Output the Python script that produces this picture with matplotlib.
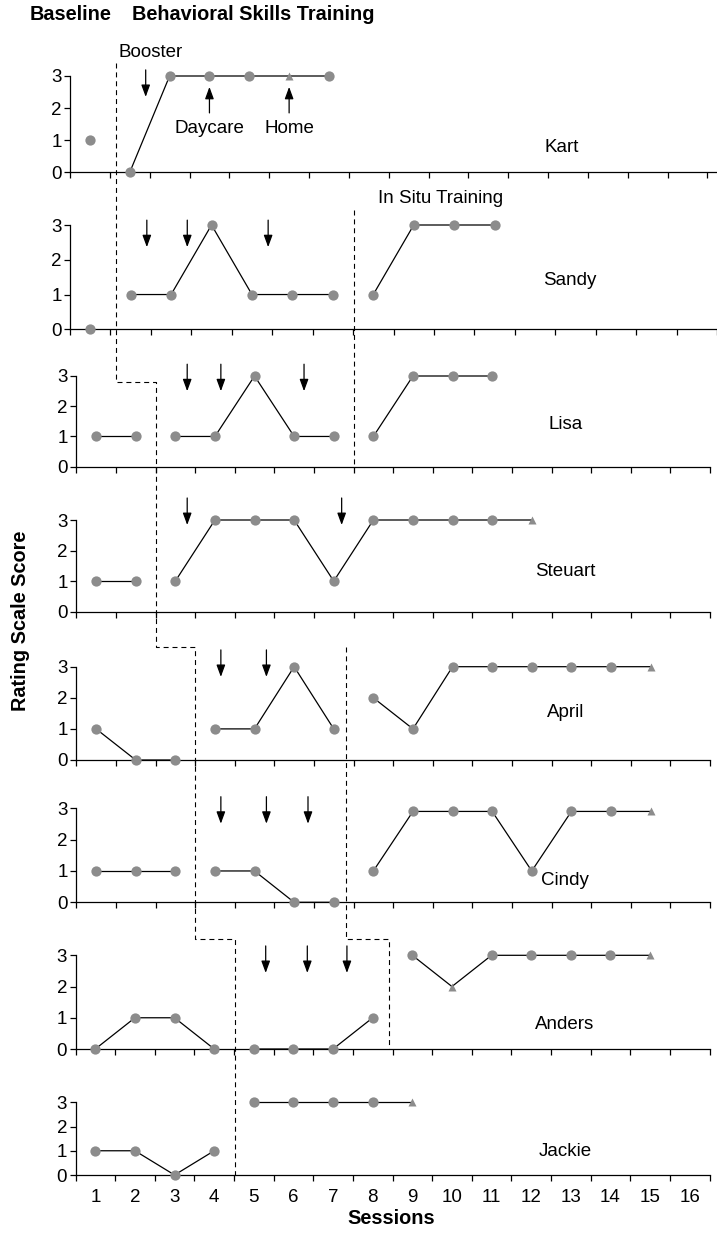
import matplotlib
matplotlib.use("Agg")
import matplotlib.pyplot as plt
from matplotlib.lines import Line2D

plt.rcParams['font.family'] = ['Liberation Sans', 'DejaVu Sans']

# scores per session (session numbers start at 1)
names = ['Kart', 'Sandy', 'Lisa', 'Steuart', 'April', 'Cindy', 'Anders', 'Jackie']

kart_score = [1, 0, 3, 3, 3, 3, 3]
sandy_score = [0, 1, 1, 3, 1, 1, 1, 1, 3, 3, 3]
lisa_score = [1, 1, 1, 1, 3, 1, 1, 1, 3, 3, 3]
steuart_score = [1, 1, 1, 3, 3, 3, 1, 3, 3, 3, 3, 3]
april_score = [1, 0, 0, 1, 1, 3, 1, 2, 1, 3, 3, 3, 3, 3, 3]
cindy_score = [1, 1, 1, 1, 1, 0, 0, 1, 2.9, 2.9, 2.9, 1, 2.9, 2.9, 2.9]
anders_score = [0, 1, 1, 0, 0, 0, 0, 1, 3, 2, 3, 3, 3, 3, 3]
jackie_score = [1, 1, 0, 1, 3, 3, 3, 3, 3]

# phase of each session: 0 baseline, 1 behavioral skills training, 2 in situ
kart_phase = [0, 1, 1, 1, 1, 1, 1]
sandy_phase = [0, 1, 1, 1, 1, 1, 1, 2, 2, 2, 2]
lisa_phase = [0, 0, 1, 1, 1, 1, 1, 2, 2, 2, 2]
steuart_phase = [0, 0, 1, 1, 1, 1, 1, 1, 1, 1, 1, 1]
april_phase = [0, 0, 0, 1, 1, 1, 1, 2, 2, 2, 2, 2, 2, 2, 2]
cindy_phase = [0, 0, 0, 1, 1, 1, 1, 2, 2, 2, 2, 2, 2, 2, 2]
anders_phase = [0, 0, 0, 0, 1, 1, 1, 1, 2, 2, 2, 2, 2, 2, 2]
jackie_phase = [0, 0, 0, 0, 1, 1, 1, 1, 1]

# sessions plotted as triangles (generalization probes)
kart_probe = [6]
sandy_probe = []
lisa_probe = []
steuart_probe = [12]
april_probe = [15]
cindy_probe = [15]
anders_probe = [10, 15]
jackie_probe = [9]

# booster sessions (down arrows)
kart_boost = [2.4]
sandy_boost = [2.4, 3.4, 5.4]
lisa_boost = [3.3, 4.15, 6.25]
steuart_boost = [3.3, 7.2]
april_boost = [4.15, 5.3]
cindy_boost = [4.15, 5.3, 6.35]
anders_boost = [5.3, 6.35, 7.35]
jackie_boost = []

# phase change lines
bst_line = [1.5, 2.5, 3.5, 4.5]
insitu_line = [7.5, 7.3, 8.4]

scores = [kart_score, sandy_score, lisa_score, steuart_score,
          april_score, cindy_score, anders_score, jackie_score]
phases = [kart_phase, sandy_phase, lisa_phase, steuart_phase,
          april_phase, cindy_phase, anders_phase, jackie_phase]
probes = [kart_probe, sandy_probe, lisa_probe, steuart_probe,
          april_probe, cindy_probe, anders_probe, jackie_probe]
boosts = [kart_boost, sandy_boost, lisa_boost, steuart_boost,
          april_boost, cindy_boost, anders_boost, jackie_boost]

W, H = 717, 1239
fig = plt.figure(figsize=(W / 100, H / 100), dpi=100)

# panel boxes in pixels: left, right, top (y=3), bottom (y=0), xmax
boxes = [(70, 717, 76, 172.3, 16.74),
         (70, 717, 225, 329.3, 16.5),
         (76.3, 710, 376, 466.7, 16.5),
         (76.3, 710, 520, 611.7, 16.5),
         (76.3, 710, 666.7, 760, 16.5),
         (76.3, 710, 808.3, 902.3, 16.5),
         (75.5, 709.5, 955.3, 1049, 16.5),
         (75.5, 709.5, 1102.3, 1175, 16.5)]
arrow_top = [3.19, 3.14, 3.39, 3.72, 3.54, 3.37, 3.30, 3.3]
name_y = [0.76, 1.39, 1.41, 1.33, 1.54, 0.71, 0.8, 0.95]

grey = '#8c8c8c'
fs = 13.5
bfs = 14.3
arrow_style = '-|>,head_length=0.6,head_width=0.22'
axes = []
for i, (l, r, t, b, xmax) in enumerate(boxes):
    ax = fig.add_axes([l / W, 1 - b / H, (r - l) / W, (b - t) / H])
    axes.append(ax)
    ax.set_xlim(0.5, xmax)
    ax.set_ylim(0, 3)
    ax.spines['top'].set_visible(False)
    ax.spines['right'].set_visible(False)
    ax.spines['left'].set_linewidth(0.9)
    ax.spines['bottom'].set_linewidth(0.9)
    ax.set_yticks([0, 1, 2, 3])
    ax.set_xticks([k + 0.5 for k in range(17)])
    ax.set_xticklabels([])
    ax.tick_params(axis='both', length=4, width=0.9, labelsize=fs, pad=2)
    ax.patch.set_alpha(0)

    sc = scores[i]
    ses = list(range(1, len(sc) + 1))
    # connect sessions within each phase
    for p in sorted(set(phases[i])):
        xs = [s for s, ph in zip(ses, phases[i]) if ph == p]
        ys = [v for v, ph in zip(sc, phases[i]) if ph == p]
        ax.plot(xs, ys, color='black', lw=0.9, clip_on=False, zorder=2)
    xc = [s for s in ses if s not in probes[i]]
    yc = [sc[s - 1] for s in xc]
    ax.plot(xc, yc, 'o', color=grey, ms=7.4, mec='none', clip_on=False, zorder=3)
    xt = [s for s in ses if s in probes[i]]
    yt = [sc[s - 1] for s in xt]
    ax.plot(xt, yt, '^', color=grey, ms=6, mec='none', clip_on=False, zorder=3)

    # booster arrows, about 27 px long
    unit = (b - t) / 3
    for s in boosts[i]:
        ax.annotate('', xy=(s, arrow_top[i] - 27 / unit), xytext=(s, arrow_top[i]),
                    arrowprops=dict(arrowstyle=arrow_style, mutation_scale=12,
                                    lw=0.9, color='black', shrinkA=0, shrinkB=0),
                    annotation_clip=False)

    ax.text(12.85, name_y[i], names[i], fontsize=fs, ha='center', va='center')

# session numbers under the last panel
axes[-1].set_xticks(range(1, 17), minor=True)
axes[-1].set_xticklabels([str(k) for k in range(1, 17)], minor=True)
axes[-1].tick_params(axis='x', which='minor', length=0, labelsize=fs, pad=10)

# setting labels in the first panel
kart = axes[0]
kart.text(2.53, 3.74, 'Booster', fontsize=fs, ha='center', va='center')
for s, lab in [(4, 'Daycare'), (6, 'Home')]:
    kart.annotate('', xy=(s, 2.66), xytext=(s, 1.85),
                  arrowprops=dict(arrowstyle=arrow_style, mutation_scale=12,
                                  lw=0.9, color='black', shrinkA=0, shrinkB=0))
    kart.text(s, 1.35, lab, fontsize=fs, ha='center', va='center')
axes[1].text(9.66, 3.75, 'In Situ Training', fontsize=fs, ha='center', va='center')

# phase change lines drawn across panels in figure coordinates
ref = axes[2]
inv = fig.transFigure.inverted()


def pt(x, ax, y):
    xd = ref.transData.transform((x, 0))[0]
    yd = ax.transData.transform((0, y))[1]
    return inv.transform((xd, yd))


def dashed(points):
    xy = [pt(*p) for p in points]
    fig.add_artist(Line2D([p[0] for p in xy], [p[1] for p in xy], color='black',
                          lw=0.8, linestyle=(0, (4.5, 3.5)), zorder=1))


dashed([(bst_line[0], axes[0], 3.4), (bst_line[0], axes[2], 2.81),
        (bst_line[1], axes[2], 2.81), (bst_line[1], axes[4], 3.64),
        (bst_line[2], axes[4], 3.64), (bst_line[2], axes[6], 3.52),
        (bst_line[3], axes[6], 3.52), (bst_line[3], axes[7], 0)])
dashed([(insitu_line[0], axes[1], 3.43), (insitu_line[0], axes[2], 0)])
dashed([(insitu_line[1], axes[4], 3.64), (insitu_line[1], axes[6], 3.52),
        (insitu_line[2], axes[6], 3.52), (insitu_line[2], axes[6], 0)])

fig.text(30 / W, 1 - 15 / H, 'Baseline', fontsize=bfs, fontweight='bold', va='center')
fig.text(132 / W, 1 - 15 / H, 'Behavioral Skills Training', fontsize=bfs,
         fontweight='bold', va='center')
fig.text(391 / W, 1 - 1218 / H, 'Sessions', fontsize=bfs, fontweight='bold',
         ha='center', va='center')
fig.text(21 / W, 1 - 621 / H, 'Rating Scale Score', fontsize=bfs, fontweight='bold',
         ha='center', va='center', rotation=90)

fig.savefig('out.png', dpi=100)
